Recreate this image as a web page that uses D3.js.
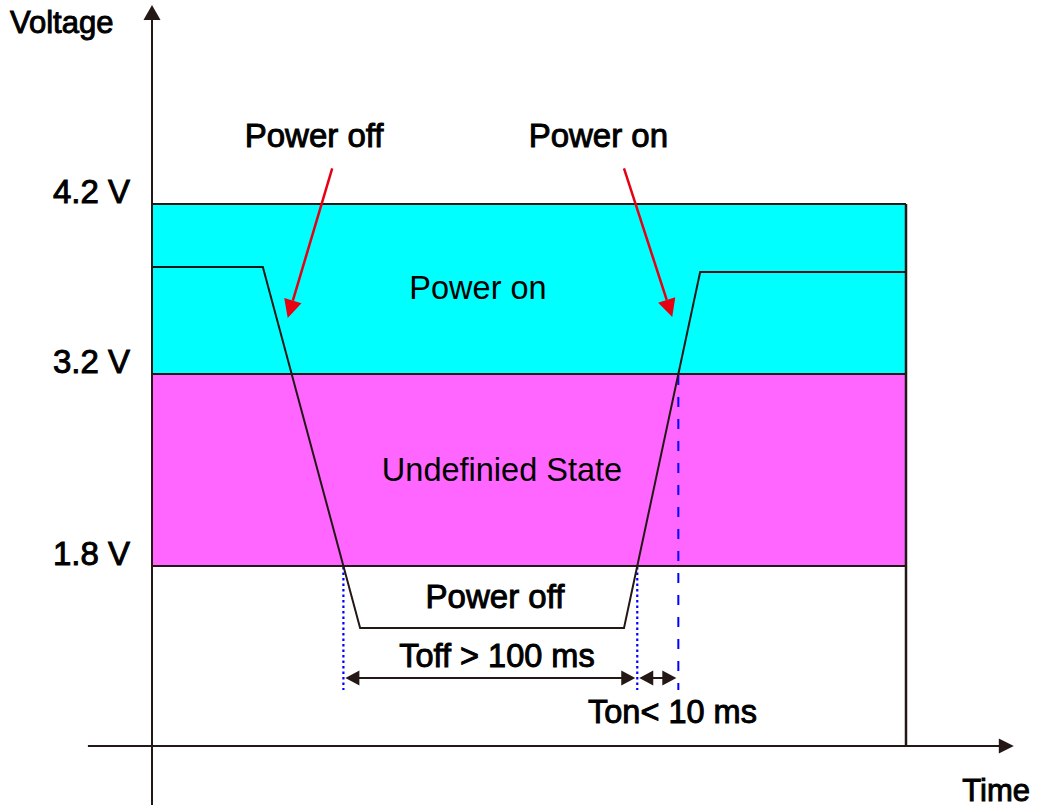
<!DOCTYPE html>
<html><head><meta charset="utf-8">
<script src="https://cdn.jsdelivr.net/npm/d3@7"></script>
<style>body{margin:0;background:#fff}</style>
</head><body><svg id="c" width="1042" height="807"></svg>
<script>
// ---- data ----
const levelValues = [4.2, 3.2, 1.8];
const levelLabels = ["4.2 V", "3.2 V", "1.8 V"];
const bandNames = ["Power on", "Undefinied State", ""];
const bandTop = [4.2, 3.2, 1.8];
const bandBottom = [3.2, 1.8, 0];
const bandColors = ["#00ffff", "#ff66ff", "#ffffff"];
const traceTime = [0, 14.7, 27.6, 62.6, 72.7, 100];
const traceVolt = [3.83, 3.83, 1.18, 1.18, 3.8, 3.8];
const topLabels = ["Power off", "Power on"];
const topLabelTime = [21.5, 59.2];
const arrowFrom = [[23.9, 4.41], [62.6, 4.41]];
const arrowTo = [[18.0, 3.53], [69.0, 3.535]];
const offLabel = "Power off";
const toffLabel = "Toff > 100 ms";
const tonLabel = "Ton< 10 ms";
const axisTitles = ["Voltage", "Time"];

// ---- scales ----
const x = d3.scaleLinear().domain([0, 100]).range([152, 906]);
const y = d3.scaleLinear().domain([0, 1.8, 3.2, 4.2]).range([746, 566, 374, 204]);

const svg = d3.select("#c");
const ink = "#231815";
const font = "'Liberation Sans', Arial, sans-serif";

// bands
bandTop.forEach((t, i) => {
  svg.append("rect").attr("x", x(0)).attr("width", x(100) - x(0))
    .attr("y", y(t)).attr("height", y(bandBottom[i]) - y(t))
    .attr("fill", bandColors[i]);
});
// band borders
levelValues.forEach(v => {
  svg.append("line").attr("x1", x(0)).attr("x2", x(100)).attr("y1", y(v)).attr("y2", y(v))
    .attr("stroke", ink).attr("stroke-width", 2);
});
svg.append("line").attr("x1", x(100)).attr("x2", x(100)).attr("y1", y(4.2)).attr("y2", y(0))
  .attr("stroke", ink).attr("stroke-width", 2.5);

// crossings computed from the drawn trace (in screen space)
function crossings(level) {
  const res = [];
  const ly = y(level);
  for (let i = 0; i < traceTime.length - 1; i++) {
    const y0 = y(traceVolt[i]), y1 = y(traceVolt[i + 1]);
    if ((y0 - ly) * (y1 - ly) < 0) {
      const f = (ly - y0) / (y1 - y0);
      res.push(traceTime[i] + f * (traceTime[i + 1] - traceTime[i]));
    }
  }
  return res;
}
const c18 = crossings(1.8);
const c32 = crossings(3.2);

// vertical guide lines
const guideBottom = 0.56;
c18.forEach(t => {
  svg.append("line").attr("x1", x(t)).attr("x2", x(t)).attr("y1", y(1.8) + 1).attr("y2", y(guideBottom))
    .attr("stroke", "#0000ff").attr("stroke-width", 2.2).attr("stroke-dasharray", "2.5,3");
});
svg.append("line").attr("x1", x(c32[1])).attr("x2", x(c32[1])).attr("y1", y(3.2) + 1).attr("y2", y(guideBottom))
  .attr("stroke", "#0000ff").attr("stroke-width", 2).attr("stroke-dasharray", "10,12");

// trace
svg.append("path")
  .attr("d", d3.line().x((d, i) => x(traceTime[i])).y((d, i) => y(traceVolt[i]))(traceTime))
  .attr("fill", "none").attr("stroke", ink).attr("stroke-width", 2);

// axes
const axisX0 = -8.5, axisX1 = 114.3, axisYTop = 5.37, axisYBot = -0.59;
svg.append("line").attr("x1", x(0)).attr("x2", x(0)).attr("y1", y(axisYTop) + 12).attr("y2", y(axisYBot))
  .attr("stroke", ink).attr("stroke-width", 2);
svg.append("path").attr("d", `M${x(0)},${y(axisYTop)} l8.5,15 l-17,0 Z`).attr("fill", ink);
svg.append("line").attr("x1", x(axisX0)).attr("x2", x(axisX1) - 12).attr("y1", y(0)).attr("y2", y(0))
  .attr("stroke", ink).attr("stroke-width", 2);
svg.append("path").attr("d", `M${x(axisX1)},${y(0)} l-15,-7.5 l0,15 Z`).attr("fill", ink);

// text helper
function label(txt, px, py, opts = {}) {
  return svg.append("text").attr("x", px).attr("y", py).text(txt)
    .attr("font-family", font).attr("font-size", opts.size || 32.5)
    .attr("text-anchor", opts.anchor || "middle")
    .attr("fill", "#000")
    .attr("stroke", opts.heavy === false ? "none" : "#000")
    .attr("stroke-width", opts.heavy === false ? 0 : 0.95);
}

// tick labels
levelValues.forEach((v, i) => label(levelLabels[i], 130, y(v) - 1, { anchor: "end", size: 33 }));

// axis titles
label(axisTitles[0], 10, 33, { anchor: "start", size: 31 });
label(axisTitles[1], 1030, 801, { anchor: "end", size: 31 });

// band labels
label(bandNames[0], 478, (y(4.2) + y(3.2)) / 2 + 10, { heavy: false, size: 32.5 });
label(bandNames[1], 502, (y(3.2) + y(1.8)) / 2 + 11, { heavy: false, size: 32.5 });
label(offLabel, 495, 608, { size: 33 });

// top labels + red arrows
topLabels.forEach((t, i) => label(t, x(topLabelTime[i]), 147, { size: 33 }));
function arrow(x1, y1, x2, y2, color, len, hw, width) {
  const a = Math.atan2(y2 - y1, x2 - x1);
  const bx = x2 - len * Math.cos(a), by = y2 - len * Math.sin(a);
  svg.append("line").attr("x1", x1).attr("y1", y1).attr("x2", bx).attr("y2", by)
    .attr("stroke", color).attr("stroke-width", width);
  const px = -Math.sin(a) * hw, py = Math.cos(a) * hw;
  svg.append("path").attr("d", `M${x2},${y2} L${bx + px},${by + py} L${bx - px},${by - py} Z`).attr("fill", color);
}
arrowFrom.forEach((f, i) => {
  arrow(x(f[0]), y(f[1]), x(arrowTo[i][0]), y(arrowTo[i][1]), "#e60012", 18, 9, 2.5);
});

// dimension arrows
const dimV = 0.68;
function dbl(t1, t2) {
  const x1 = x(t1) + 2, x2 = x(t2) - 2, yy = y(dimV);
  const L = 14, H = 7.5;
  svg.append("line").attr("x1", x1 + L - 1).attr("x2", x2 - L + 1).attr("y1", yy).attr("y2", yy)
    .attr("stroke", ink).attr("stroke-width", 2);
  svg.append("path").attr("d", `M${x1},${yy} l${L},-${H} l0,${2 * H} Z`).attr("fill", ink);
  svg.append("path").attr("d", `M${x2},${yy} l-${L},-${H} l0,${2 * H} Z`).attr("fill", ink);
}
dbl(c18[0], c18[1]);
dbl(c18[1], c32[1]);
label(toffLabel, 497, 667, { size: 32.5 });
label(tonLabel, 588, 723, { anchor: "start", size: 32.5 });
</script></body></html>
